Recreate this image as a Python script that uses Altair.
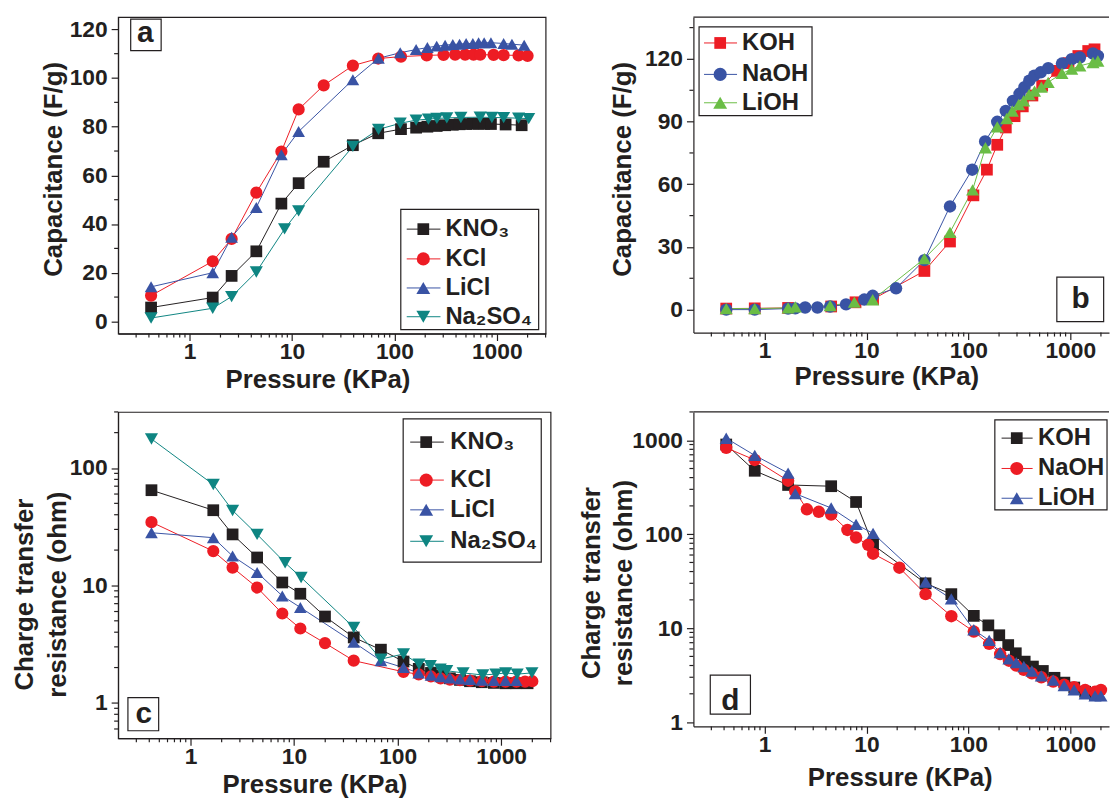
import altair as alt
import pandas as pd

FONT = "Liberation Sans"
INK = "#231f20"

# ---------------- panel a : capacitance, neutral electrolytes ----------------
a_names = ["KNO₃", "KCl", "LiCl", "Na₂SO₄"]
a_colors = ["#231f20", "#ed1c24", "#3953a4", "#0e8582"]
a_shapes = ["square", "circle", "triangle-up", "triangle-down"]
a_sizes = [140, 175, 195, 195]

a_kno3_p = [0.42, 1.68, 2.57, 4.48, 7.87, 11.6, 20.4, 39.3, 69.5, 116, 163, 210, 259, 313, 372, 433, 502, 584, 664, 753, 877, 1220, 1750]
a_kno3_c = [5.7, 9.8, 18.7, 28.8, 48.4, 56.8, 65.6, 72.4, 77.3, 79.0, 79.6, 80.0, 80.3, 80.6, 80.8, 81.0, 81.1, 81.2, 81.2, 81.2, 81.1, 80.9, 80.6]
a_kcl_p = [0.42, 1.68, 2.57, 4.48, 7.87, 11.6, 20.4, 39.3, 69.5, 116, 207, 302, 392, 491, 593, 689, 931, 1167, 1633, 2000]
a_kcl_c = [10.6, 24.7, 33.9, 52.9, 69.8, 87.1, 97.0, 105.1, 108.0, 108.8, 109.3, 109.5, 109.6, 109.6, 109.6, 109.6, 109.5, 109.4, 109.3, 109.1]
a_licl_p = [0.42, 1.68, 2.57, 4.48, 7.87, 11.6, 39.3, 69.9, 114, 163, 210, 259, 313, 372, 433, 502, 584, 664, 753, 877, 1167, 1407, 1853]
a_licl_c = [14.2, 20.0, 34.6, 46.8, 68.5, 78.0, 99.3, 108.1, 110.4, 111.7, 112.5, 113.1, 113.5, 113.8, 113.9, 114.2, 114.2, 114.5, 114.5, 114.5, 114.2, 113.9, 113.5]
a_na2so4_p = [0.42, 1.68, 2.57, 4.48, 8.46, 11.6, 39.3, 70, 114, 163, 215, 260, 325, 446, 688, 896, 1167, 1633, 2050]
a_na2so4_c = [1.4, 5.4, 10.2, 20.3, 38.0, 45.4, 71.9, 78.9, 81.4, 82.7, 83.1, 83.4, 83.6, 83.8, 83.9, 83.8, 83.7, 83.5, 83.3]

# ---------------- panel b : capacitance, alkaline electrolytes ----------------
b_names = ["KOH", "NaOH", "LiOH"]
b_colors = ["#ed1c24", "#3953a4", "#6abd45"]
b_shapes = ["square", "circle", "triangle-up"]
b_sizes = [140, 175, 195]

b_koh_p = [0.42, 0.8, 1.7, 4.5, 7.8, 11.6, 37, 66, 112, 152, 192, 233, 284, 342, 425, 530, 744, 960, 1200, 1500, 1730]
b_koh_c = [0.5, 0.6, 0.8, 1.5, 3.5, 5.0, 18.5, 32.6, 54.7, 67.0, 78.9, 87.2, 92.6, 97.3, 102.5, 107.2, 114.3, 118.0, 121.4, 123.8, 124.6]
b_naoh_p = [0.42, 0.8, 1.7, 2.0, 2.5, 3.3, 4.4, 6.3, 9.5, 11.5, 19.5, 37, 66, 109, 146, 192, 233, 274, 318, 355, 396, 443, 513, 608, 829, 1033, 1242, 1671, 1866]
b_naoh_c = [0.0, 0.0, 0.5, 0.6, 1.0, 1.0, 1.5, 2.5, 4.8, 6.6, 10.2, 23.7, 49.4, 67.0, 80.5, 89.9, 95.1, 99.9, 103.3, 106.5, 109.6, 112.0, 113.6, 115.6, 117.8, 119.9, 120.7, 122.6, 121.4]
b_lioh_p = [0.42, 0.8, 1.7, 2.0, 4.4, 7.6, 11.5, 37, 66, 110, 147, 192, 238, 270, 312, 349, 395, 446, 520, 607, 829, 1033, 1242, 1671, 1866]
b_lioh_c = [0.5, 0.5, 0.8, 1.3, 1.9, 3.6, 4.7, 24.4, 37.0, 57.3, 77.5, 87.5, 91.5, 95.1, 98.2, 100.0, 103.0, 104.6, 106.5, 108.8, 113.1, 115.1, 116.7, 118.3, 119.0]

# ---------------- panel c : charge transfer resistance, neutral ----------------
c_kno3_p = [0.42, 1.66, 2.55, 4.4, 7.7, 11.5, 19.9, 37.7, 69, 114, 160, 210, 260, 320, 400, 500, 650, 850, 1100, 1400, 1800]
c_kno3_r = [64.7, 43.7, 27.2, 17.3, 10.6, 8.5, 5.44, 3.61, 2.84, 2.25, 1.95, 1.8, 1.7, 1.62, 1.57, 1.53, 1.5, 1.48, 1.47, 1.47, 1.47]
c_kcl_p = [0.42, 1.66, 2.55, 4.4, 7.7, 11.5, 19.9, 37.7, 114, 160, 210, 260, 320, 400, 500, 650, 850, 1100, 1400, 1700, 2000]
c_kcl_r = [34.6, 19.6, 14.2, 9.6, 5.77, 4.3, 3.23, 2.29, 1.84, 1.75, 1.68, 1.62, 1.58, 1.56, 1.55, 1.53, 1.52, 1.52, 1.52, 1.52, 1.53]
c_licl_p = [0.42, 1.66, 2.55, 4.4, 7.7, 11.5, 37.7, 69, 114, 160, 210, 260, 320, 400, 500, 650, 850, 1100, 1400]
c_licl_r = [28.1, 25.5, 17.8, 12.9, 8.15, 6.5, 3.28, 2.29, 2.0, 1.8, 1.72, 1.67, 1.63, 1.6, 1.58, 1.56, 1.55, 1.55, 1.55]
c_na2so4_p = [0.42, 1.66, 2.55, 4.4, 8.2, 11.7, 37.7, 69, 114, 161, 207, 258, 298, 429, 665, 889, 1106, 1428, 1982]
c_na2so4_r = [176.7, 72.3, 43.5, 27.2, 15.6, 11.7, 4.39, 2.36, 2.61, 2.14, 2.07, 1.94, 1.88, 1.8, 1.73, 1.76, 1.8, 1.76, 1.8]

# ---------------- panel d : charge transfer resistance, alkaline ----------------
d_names = ["KOH", "NaOH", "LiOH"]
d_colors = ["#231f20", "#ed1c24", "#3953a4"]
d_shapes = ["square", "circle", "triangle-up"]
d_sizes = [140, 175, 195]

d_koh_p = [0.42, 0.8, 1.7, 4.5, 7.9, 11.6, 38, 68, 113, 157, 201, 246, 292, 357, 430, 538, 700, 875, 1094, 1400, 1750]
d_koh_r = [900, 473, 334, 324, 220, 77, 30, 23, 13.5, 10.7, 8.4, 6.6, 5.4, 4.4, 3.9, 3.5, 2.96, 2.63, 2.33, 2.1, 1.95]
d_naoh_p = [0.42, 0.8, 1.7, 2.0, 2.6, 3.4, 4.5, 6.5, 7.9, 10.4, 11.6, 21, 38, 68, 113, 160, 205, 250, 295, 350, 420, 520, 680, 870, 1090, 1400, 1750, 2000]
d_naoh_r = [830, 617, 371, 285, 184, 173, 162, 111, 92, 77, 62, 44, 23, 13.4, 9.2, 6.8, 5.3, 4.5, 4.0, 3.6, 3.3, 3.0, 2.7, 2.5, 2.35, 2.2, 2.1, 2.2]
d_lioh_p = [0.42, 0.8, 1.7, 2.0, 4.5, 7.9, 11.6, 38, 68, 113, 160, 205, 250, 295, 350, 420, 520, 680, 870, 1090, 1400, 1750, 2000]
d_lioh_r = [1050, 690, 447, 270, 190, 127, 102, 31, 20.5, 9.6, 7.4, 5.5, 4.7, 4.3, 3.9, 3.5, 3.1, 2.8, 2.45, 2.2, 2.0, 1.9, 1.9]

# axis tick values
x_major = [1, 10, 100, 1000]
x_minor_wide = [0.3, 0.4, 0.5, 0.6, 0.7, 0.8, 0.9, 2, 3, 4, 5, 6, 7, 8, 9, 20, 30, 40, 50, 60, 70, 80, 90,
                200, 300, 400, 500, 600, 700, 800, 900, 2000, 3000]
x_minor_narrow = x_minor_wide[:-1]
a_y_major = [0, 20, 40, 60, 80, 100, 120]
a_y_minor = [10, 30, 50, 70, 90, 110]
b_y_major = [0, 30, 60, 90, 120]
b_y_minor = [15, 45, 75, 105, 135]
c_y_major = [1, 10, 100]
c_y_minor = [0.6, 0.7, 0.8, 0.9, 2, 3, 4, 5, 6, 7, 8, 9, 20, 30, 40, 50, 60, 70, 80, 90, 200, 300]
d_y_major = [1, 10, 100, 1000]
d_y_minor = [2, 3, 4, 5, 6, 7, 8, 9, 20, 30, 40, 50, 60, 70, 80, 90, 200, 300, 400, 500, 600, 700, 800, 900, 2000]

ONE = pd.DataFrame({"k": [0]})


def legend_layers(names, colors, shapes, sizes, box, ys, line_x, sym_x, text_x, fs=24):
    x1, x2, y1, y2 = box
    out = [alt.Chart(ONE).mark_rect(fill="white", stroke=INK, strokeWidth=1.2).encode(
        x=alt.value(x1), x2=alt.value(x2), y=alt.value(y1), y2=alt.value(y2))]
    for n, c, s, z, ly in zip(names, colors, shapes, sizes, ys):
        out.append(alt.Chart(ONE).mark_rule(color=c, strokeWidth=1).encode(
            x=alt.value(line_x[0]), x2=alt.value(line_x[1]), y=alt.value(ly)))
        out.append(alt.Chart(ONE).mark_point(filled=True, shape=s, size=z, color=c, opacity=1, strokeWidth=0).encode(
            x=alt.value(sym_x), y=alt.value(ly)))
        out.append(alt.Chart(pd.DataFrame({"t": [n]})).mark_text(
            align="left", baseline="middle", font=FONT, fontWeight="bold", fontSize=fs, color=INK).encode(
            x=alt.value(text_x), y=alt.value(ly), text="t:N"))
    return out


def letter_layers(letter, box, tx, ty, fs=30):
    x1, x2, y1, y2 = box
    return [
        alt.Chart(ONE).mark_rect(fill="white", stroke=INK, strokeWidth=1.2).encode(
            x=alt.value(x1), x2=alt.value(x2), y=alt.value(y1), y2=alt.value(y2)),
        alt.Chart(pd.DataFrame({"t": [letter]})).mark_text(
            align="center", baseline="alphabetic", font=FONT, fontWeight="bold", fontSize=fs, color=INK).encode(
            x=alt.value(tx), y=alt.value(ty), text="t:N"),
    ]


def panel(names, colors, shapes, sizes, xs, ys, w, h, xdom, ytype, ydom, ymaj, ymin, xmin,
          ytitle, ytx, yty, xtx, xty, leg, let, open_right=False):
    rows = []
    for n, xv, yv in zip(names, xs, ys):
        for x, y in zip(xv, yv):
            rows.append({"s": n, "p": x, "v": y})
    df = pd.DataFrame(rows)
    xsc = alt.Scale(type="log", domain=xdom, nice=False)
    if ytype == "log":
        ysc = alt.Scale(type="log", domain=ydom, nice=False)
    else:
        ysc = alt.Scale(type="linear", domain=ydom, nice=False, zero=False)
    xax = alt.Axis(values=x_major, format="d", title="Pressure (KPa)", titleX=xtx, titleY=xty,
                   titleBaseline="middle", titleAlign="center", labelPadding=0, labelBaseline="top")
    yax = alt.Axis(values=ymaj, format="d", title=ytitle, titleX=ytx, titleY=yty, titleAngle=-90,
                   titleAlign="center", titleBaseline="bottom", labelPadding=4, titleLineHeight=33)
    color = alt.Color("s:N", scale=alt.Scale(domain=names, range=colors), legend=None)
    shape = alt.Shape("s:N", scale=alt.Scale(domain=names, range=shapes), legend=None)
    size = alt.Size("s:O", scale=alt.Scale(domain=names, range=sizes), legend=None)
    base = alt.Chart(df)
    line = base.mark_line(strokeWidth=1).encode(
        x=alt.X("p:Q", scale=xsc, axis=xax), y=alt.Y("v:Q", scale=ysc, axis=yax),
        color=color, detail="s:N", order="p:Q")
    pts = base.mark_point(filled=True, opacity=1, strokeWidth=0).encode(
        x=alt.X("p:Q", scale=xsc, axis=xax), y=alt.Y("v:Q", scale=ysc, axis=yax),
        color=color, shape=shape, size=size)
    xm = alt.Chart(pd.DataFrame({"t": xmin})).mark_rule(color=INK, strokeWidth=1.2).encode(
        x=alt.X("t:Q", scale=xsc, axis=xax), y=alt.value(h), y2=alt.value(h + 4))
    ym = alt.Chart(pd.DataFrame({"t": ymin})).mark_rule(color=INK, strokeWidth=1.2).encode(
        y=alt.Y("t:Q", scale=ysc, axis=yax), x=alt.value(0), x2=alt.value(-4))
    layers = [line, pts, xm, ym]
    if open_right:
        # frame continues past the right edge of the picture: only the top border is drawn
        layers.append(alt.Chart(ONE).mark_rule(color=INK, strokeWidth=1.2).encode(
            x=alt.value(0), x2=alt.value(w), y=alt.value(0)))
    layers += legend_layers(names, colors, shapes, sizes, *leg)
    layers += letter_layers(*let)
    ch = alt.layer(*layers).properties(width=w, height=h)
    if open_right:
        ch = ch.properties(view=alt.ViewBackground(strokeOpacity=0))
    return ch


pa = panel(a_names, a_colors, a_shapes, a_sizes,
           [a_kno3_p, a_kcl_p, a_licl_p, a_na2so4_p], [a_kno3_c, a_kcl_c, a_licl_c, a_na2so4_c],
           431, 319, [0.2, 3000], "linear", [-5, 125], a_y_major, a_y_minor, x_minor_wide,
           "Capacitance (F/g)", -52, 153, 201, 46,
           ((285, 424, 193.7, 315), [213.7, 243.7, 273, 302], (291, 325), 307.7, 330),
           ("a", (12.7, 43.4, 2, 33.7), 27.5, 25.3))

pb = panel(b_names, b_colors, b_shapes, b_sizes,
           [b_koh_p, b_naoh_p, b_lioh_p], [b_koh_c, b_naoh_c, b_lioh_c],
           419, 318, [0.2, 2400], "linear", [-11, 140], b_y_major, b_y_minor, x_minor_narrow,
           "Capacitance (F/g)", -58, 153, 194.5, 44,
           ((5.7, 119.6, 9.7, 99.3), [26, 57.7, 86.3], (10.7, 44), 27, 49),
           ("b", (366.4, 413.6, 262, 307), 390.4, 293.7), open_right=True)

pc = panel(a_names, a_colors, a_shapes, a_sizes,
           [c_kno3_p, c_kcl_p, c_licl_p, c_na2so4_p], [c_kno3_r, c_kcl_r, c_licl_r, c_na2so4_r],
           436, 329, [0.2, 3000], "log", [0.5, 300], c_y_major, c_y_minor, x_minor_wide,
           ["Charge transfer", "resistance (ohm)"], -81, 183.7, 198, 47,
           ((287.4, 426.6, 7, 151.4), [30.4, 68.7, 98.7, 130.4], (294.5, 328.4), 310.6, 334.9),
           ("c", (9.9, 40.9, 288, 321.4), 25.8, 313.7))

pd_ = panel(d_names, d_colors, d_shapes, d_sizes,
            [d_koh_p, d_naoh_p, d_lioh_p], [d_koh_r, d_naoh_r, d_lioh_r],
            419, 317, [0.2, 2400], "log", [0.9, 2000], d_y_major, d_y_minor, x_minor_narrow,
            ["Charge transfer", "resistance (ohm)"], -90, 172, 208, 52,
            ((303.9, 417, 8, 98.7), [26.4, 57, 87], (310.7, 342), 326, 347.5),
            ("d", (17, 57.5, 265.4, 304.7), 37.2, 300.4), open_right=True)

chart = alt.concat(pa, pb, pc, pd_, columns=2, spacing={"row": 79, "column": 144}, bounds="flush").resolve_scale(
    color="independent", shape="independent", size="independent"
).properties(
    padding={"left": 3, "top": 5, "right": 0, "bottom": 0}
).configure_axis(
    labelFont=FONT, titleFont=FONT, labelFontSize=23, titleFontSize=26,
    labelFontWeight="bold", titleFontWeight="bold", labelColor=INK, titleColor=INK,
    domainColor=INK, tickColor=INK, domainWidth=1.2, tickWidth=1.2, tickSize=7,
    grid=False, labelFlush=False, labelOverlap=False
).configure_view(stroke=INK, strokeWidth=1.2)

chart.save("out.html", embed_options={"renderer": "svg", "actions": False})
